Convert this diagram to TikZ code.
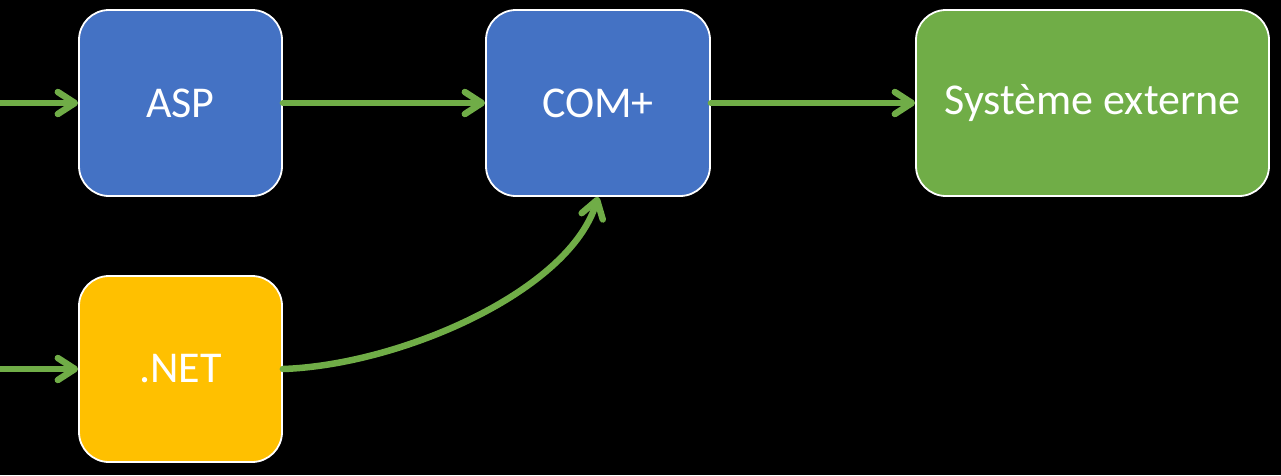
\documentclass[tikz,border=0pt]{standalone}
\usepackage{fontspec}
\setmainfont{Carlito}
\usetikzlibrary{arrows.meta}

\begin{document}
\begin{tikzpicture}[
    x=1pt,y=-1pt,
    every node/.style={font=\fontsize{44}{52}\selectfont,text=white},
    box/.style={draw=white,line width=1.8pt,rounded corners=30pt,
        minimum height=186pt,inner sep=0pt},
    flow/.style={draw=flowgreen,line width=6.5pt,line cap=round,
        -{Straight Barb[length=17pt,width=22pt,line cap=round,line join=round]}}]
    \definecolor{aspblue}{HTML}{4472C4}
    \definecolor{netyellow}{HTML}{FFC000}
    \definecolor{flowgreen}{HTML}{70AD47}

    \fill[black] (0,0) rectangle (1281,475);
    \useasboundingbox (0,0) rectangle (1281,475);

    \node[box,fill=aspblue,minimum width=203pt] (asp) at (180.5,103) {ASP};
    \node[box,fill=aspblue,minimum width=224pt] (com) at (598,103) {COM+};
    \node[box,fill=flowgreen,minimum width=353pt] (ext) at (1092.5,103) {Système externe};
    \node[box,fill=netyellow,minimum width=203pt] (net) at (180.5,369) {.NET};

    \coordinate (inasp) at (0,103);
    \coordinate (innet) at (0,369);

    \draw[flow] (inasp) -- (asp.west);
    \draw[flow] (innet) -- (net.west);
    \draw[flow] (asp.east) -- (com.west);
    \draw[flow] (com.east) -- (ext.west);
    \draw[flow] (net.east) .. controls ([shift={(118,-4)}]net.east)
        and ([shift={(-28,94)}]com.south) .. (com.south);
\end{tikzpicture}
\end{document}
